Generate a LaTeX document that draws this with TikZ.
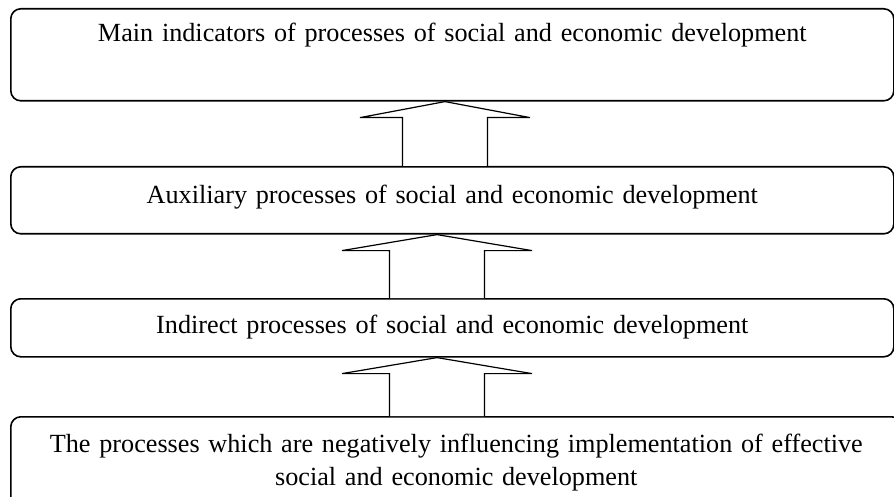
\documentclass[tikz,border=0pt]{standalone}
\usepackage{fontspec}
\setmainfont{Liberation Serif}
\usetikzlibrary{calc}

\tikzset{
  stagebox/.style={draw, line width=1.6pt, rounded corners=10pt, inner sep=0pt,
    anchor=north west, align=center, font=\fontsize{26.2}{33}\selectfont},
  hollowarrow/.style={draw, fill=white, line width=1.2pt, line join=miter}
}

% hollow block arrow from #1 up to #2: tip x, shaft half width, head half width
\newcommand{\blockup}[5]{%
  \coordinate (tip) at (#3,0 |- #2.south);
  \draw[hollowarrow] (#3-#4,0 |- #1.north) -- ($(tip)+(-#4,16)$) -- ($(tip)+(-#5,16)$)
    -- (tip) -- ($(tip)+(#5,16)$) -- ($(tip)+(#4,16)$) -- (#3+#4,0 |- #1.north);
}

\begin{document}
\begin{tikzpicture}[x=1pt,y=-1pt]
	\useasboundingbox (0,0) rectangle (894,497);
	% the four levels
	\node[stagebox, text width=883pt, text height=33pt, text depth=59pt] (main) at (10,8)
		{Main indicators of processes of social and economic development};
	\node[stagebox, text width=883pt, text height=37pt, text depth=30pt] (aux) at (10,166)
		{Auxiliary processes of social and economic development};
	\node[stagebox, text width=883pt, text height=35pt, text depth=23pt] (indirect) at (10,298)
		{Indirect processes of social and economic development};
	\node[stagebox, text width=891pt, text height=36pt, text depth=60pt] (negative) at (10,416)
		{The processes which are negatively influencing implementation of effective\\
		 social and economic development};
	% arrows between levels
	\blockup{aux}{main}{445}{42.5}{85}
	\blockup{indirect}{aux}{437}{47.5}{95}
	\blockup{negative}{indirect}{437}{47.5}{95}
\end{tikzpicture}
\end{document}
